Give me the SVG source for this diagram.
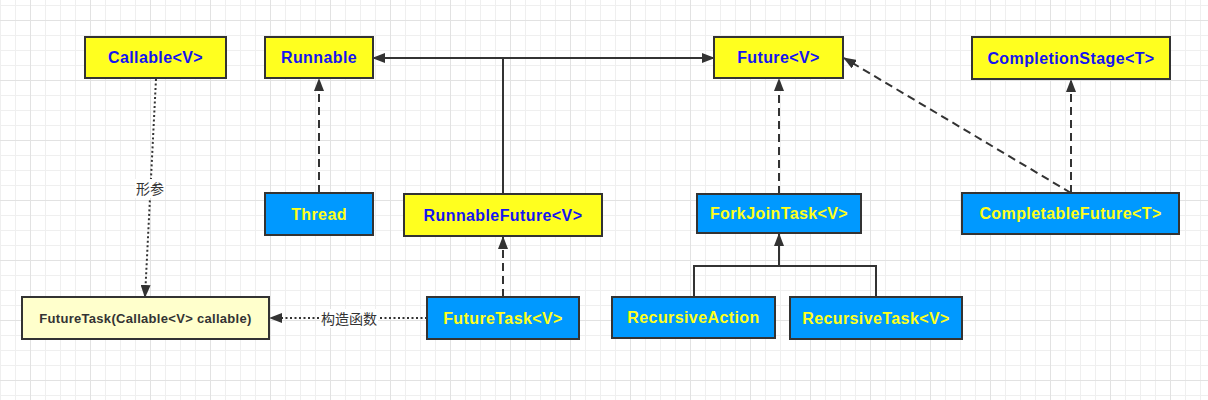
<svg xmlns="http://www.w3.org/2000/svg" width="1208" height="400" viewBox="0 0 1208 400">
<defs>
<pattern id="grid" width="60" height="60" patternUnits="userSpaceOnUse" x="0" y="5">
<rect width="60" height="60" fill="#ffffff"/>
<g fill="#efefef">
<rect x="0" y="0" width="1" height="60"/><rect x="15" y="0" width="1" height="60"/><rect x="45" y="0" width="1" height="60"/>
<rect x="0" y="0" width="60" height="1"/><rect x="0" y="30" width="60" height="1"/><rect x="0" y="45" width="60" height="1"/>
</g>
<g fill="#e2e2e2">
<rect x="30" y="0" width="1" height="60"/>
<rect x="0" y="15" width="60" height="1"/>
</g>
</pattern>
<marker id="arr" markerWidth="13" markerHeight="10" refX="12" refY="5" orient="auto" markerUnits="userSpaceOnUse">
<path d="M0,0 L13,5 L0,10 Z" fill="#333333"/>
</marker>
<marker id="arrs" markerWidth="13" markerHeight="10" refX="1" refY="5" orient="auto" markerUnits="userSpaceOnUse">
<path d="M13,0 L0,5 L13,10 Z" fill="#333333"/>
</marker>
</defs>
<style>
.n rect{stroke:#333333;stroke-width:2}
.y rect{fill:#ffff1f}
.b rect{fill:#0099ff}
.n text{font-family:"Liberation Sans",Arial,sans-serif;font-weight:bold;font-size:16px;letter-spacing:0.4px;text-anchor:middle}
.y text{fill:#1414f0}
.b text{fill:#ffff1a}
.c rect{fill:#ffffcc}
.c text{fill:#333333;font-size:13px;letter-spacing:0.3px}
.e{fill:none;stroke:#333333;stroke-width:2}
.d{stroke-dasharray:8 5}
.o{stroke-dasharray:2 2.5}
.lbl{font-family:"Liberation Sans","Noto Sans CJK SC",sans-serif;font-size:14px;fill:#333333;text-anchor:middle}
</style>
<rect width="1208" height="400" fill="url(#grid)"/>
<g id="connectors">
<path class="e" d="M373,58 L714,58" marker-start="url(#arrs)" marker-end="url(#arr)"/>
<path class="e" d="M503,58 L503,194"/>
<path class="e d" d="M319,193 L319,79" marker-end="url(#arr)"/>
<path class="e d" d="M503,297 L503,237" marker-end="url(#arr)"/>
<path class="e d" d="M779,194 L779,79" marker-end="url(#arr)"/>
<path class="e d" d="M1071,193 L1071,80" marker-end="url(#arr)"/>
<path class="e d" d="M1071,193 L844,58" marker-end="url(#arr)"/>
<path class="e" d="M694,297 L694,266 L876,266 L876,297"/>
<path class="e" d="M779,266 L779,234" marker-end="url(#arr)"/>
<path class="e o" d="M156,79 L145,297" marker-end="url(#arr)"/>
<path class="e o" d="M427,318 L270,318" marker-end="url(#arr)"/>
<rect x="135" y="179" width="30" height="19" fill="#ffffff"/>
<text class="lbl" x="150" y="193.5">形参</text>
<rect x="320" y="309" width="58" height="19" fill="#ffffff"/>
<text class="lbl" x="349" y="323.5">构造函数</text>
</g>
<g id="callable" class="n y"><rect x="85" y="37" width="141" height="41"/><text x="155.5" y="63">Callable&lt;V&gt;</text></g>
<g id="runnable" class="n y"><rect x="265" y="37" width="108" height="41"/><text x="319" y="63">Runnable</text></g>
<g id="future" class="n y"><rect x="714" y="37" width="129" height="41"/><text x="778.5" y="63">Future&lt;V&gt;</text></g>
<g id="completionstage" class="n y"><rect x="972" y="37" width="198" height="42"/><text x="1071" y="63.5">CompletionStage&lt;T&gt;</text></g>
<g id="thread" class="n b"><rect x="265" y="193" width="108" height="42"/><text x="319" y="219.5">Thread</text></g>
<g id="runnablefuture" class="n y"><rect x="404" y="194" width="198" height="42"/><text x="503" y="220.5">RunnableFuture&lt;V&gt;</text></g>
<g id="forkjointask" class="n b"><rect x="697" y="194" width="164" height="39"/><text x="779" y="219">ForkJoinTask&lt;V&gt;</text></g>
<g id="completablefuture" class="n b"><rect x="962" y="193" width="217" height="41"/><text x="1070.5" y="219">CompletableFuture&lt;T&gt;</text></g>
<g id="futuretask-ctor" class="n c"><rect x="22" y="297" width="247" height="42"/><text x="145.5" y="323">FutureTask(Callable&lt;V&gt; callable)</text></g>
<g id="futuretask" class="n b"><rect x="427" y="297" width="152" height="42"/><text x="503" y="323.5">FutureTask&lt;V&gt;</text></g>
<g id="recursiveaction" class="n b"><rect x="612" y="297" width="163" height="41"/><text x="693.5" y="323">RecursiveAction</text></g>
<g id="recursivetask" class="n b"><rect x="790" y="297" width="172" height="42"/><text x="876" y="323.5">RecursiveTask&lt;V&gt;</text></g>
</svg>
